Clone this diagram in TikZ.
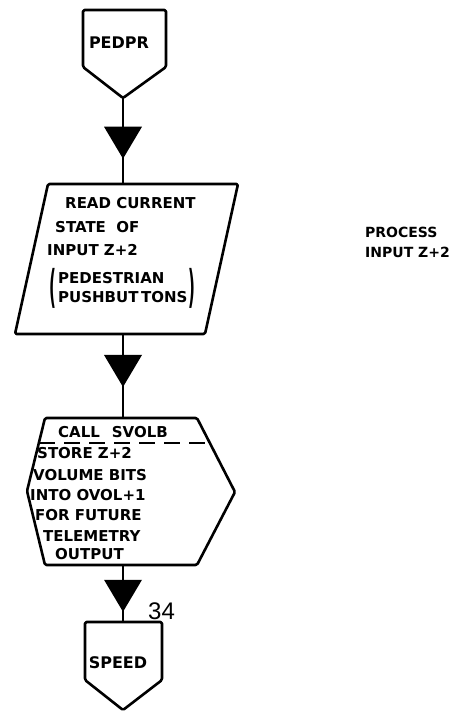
\documentclass[tikz,border=0pt]{standalone}
\usepackage{fontspec}
\newfontfamily\lettering{DejaVu Sans}
\newfontfamily\pagefont{Liberation Sans}
\usetikzlibrary{calc}
\tikzset{
  box/.style={draw=black, line width=2.6pt, line join=round, rounded corners=1.5pt},
  flow/.style={draw=black, line width=2.4pt},
  flowtip/.pic={\fill[black] (-19,-16) -- (19,-16) -- (0,16) -- cycle;},
  txt/.style={font=\lettering\bfseries\fontsize{15}{18}\selectfont, inner sep=0pt, anchor=west},
  lbl/.style={font=\lettering\bfseries\fontsize{16}{19}\selectfont, inner sep=0pt},
  side/.style={txt, font=\lettering\bfseries\fontsize{14}{17}\selectfont},
  paren/.style={font=\lettering\bfseries\fontsize{15}{18}\selectfont, inner sep=0pt},
  pgno/.style={font=\pagefont\fontsize{24}{28}\selectfont, inner sep=0pt, anchor=west},
}

\begin{document}
\begin{tikzpicture}[x=1pt,y=-1pt]
  \useasboundingbox[fill=white] (0,0) rectangle (467,715);

  % entry connector
  \draw[box] (83,10) -- (166,10) -- (166,67) -- (123,98) coordinate (pedprS) -- (83,67) -- cycle;
  \node[lbl] (pedpr) at (119,43) {PEDPR};

  % input step
  \draw[box] (48,184) -- (238,184) -- (205,334) -- (15,334) -- cycle;
  \coordinate (readN) at (123,184);
  \coordinate (readS) at (123,334);
  \node[txt] (rd1) at (65,203) {READ CURRENT};
  \node[txt] (rd2) at (55,227) {STATE\ \ OF};
  \node[txt] (rd3) at (47,250) {INPUT Z+2};
  \node[txt] (rd4) at (58,278) {PEDESTRIAN};
  \node[txt] (rd5) at (58,297) {PUSHBUT\,TONS};
  \node[paren] (rdl) at (53,288) {\scalebox{1}[3]{(}};
  \node[paren] (rdr) at (192,288) {\scalebox{1}[3]{)}};

  % subroutine call
  \draw[box] (45,418) -- (197,418) -- (235,492) -- (197,565) -- (45,565) -- (27,491) -- cycle;
  \coordinate (callN) at (123,418);
  \coordinate (callS) at (123,565);
  \draw[flow, line width=2pt, dash pattern=on 16pt off 9pt] (39,443) -- (210,443);
  \node[txt] (cl0) at (58,432) {CALL\hspace{12pt}SVOLB};
  \node[txt] (cl1) at (37,453) {STORE Z+2};
  \node[txt] (cl2) at (33,475) {VOLUME BITS};
  \node[txt] (cl3) at (30,495) {INTO OVOL+1};
  \node[txt] (cl4) at (35,515) {FOR FUTURE};
  \node[txt] (cl5) at (43,536) {TELEMETRY};
  \node[txt] (cl6) at (55,554) {OUTPUT};

  % exit connector
  \draw[box] (85,622) coordinate (speedW) -- (162,622) -- (162,680) -- (123,710) -- (85,680) -- cycle;
  \coordinate (speedN) at (123,622);
  \node[lbl] (speed) at (118,663) {SPEED};
  \node[pgno] (pg) at (148,611) {34};

  % flow lines
  \foreach \a/\b/\t in {pedprS/readN/.52, readS/callN/.44, callS/speedN/.54}{
    \draw[flow] (\a) -- (\b);
    \pic at ($(\a)!\t!(\b)$) {flowtip};
  }

  % side note
  \node[side] (note1) at (365,232) {PROCESS};
  \node[side] (note2) at (365,252) {INPUT\ Z+2};
\end{tikzpicture}
\end{document}
